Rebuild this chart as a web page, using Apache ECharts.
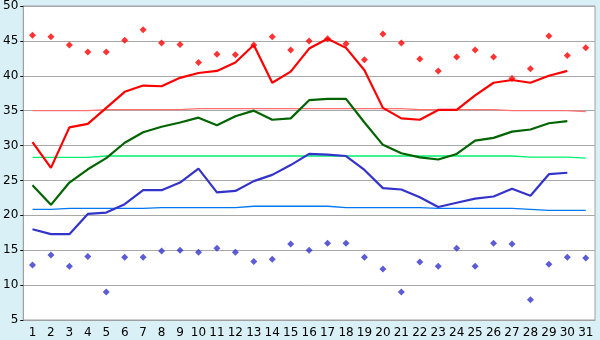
<!DOCTYPE html>
<html>
<head>
<meta charset="utf-8">
<script src="https://cdn.jsdelivr.net/npm/echarts@6/dist/echarts.min.js"></script>
<style>
html, body { margin: 0; padding: 0; background: #daf0f7; }
#chart { width: 600px; height: 340px; }
</style>
</head>
<body>
<div id="chart"></div>
<script>
var days = [];
for (var d = 1; d <= 31; d++) days.push(String(d));

// mean high / mean / mean low
var highLine = [30.5, 26.8, 32.6, 33.1, 35.4, 37.7, 38.6, 38.5, 39.7, 40.4, 40.7, 41.9, 44.4, 39.0, 40.6, 43.9, 45.3, 44.0, 40.8, 35.4, 33.9, 33.7, 35.1, 35.1, 37.2, 39.0, 39.4, 39.0, 40.0, 40.7];
var meanLine = [24.3, 21.5, 24.7, 26.6, 28.2, 30.4, 31.9, 32.7, 33.3, 34.0, 32.9, 34.2, 35.0, 33.7, 33.9, 36.5, 36.7, 36.7, 33.3, 30.1, 28.9, 28.3, 28.0, 28.8, 30.7, 31.1, 32.0, 32.3, 33.2, 33.5];
var lowLine = [18.0, 17.3, 17.3, 20.2, 20.4, 21.6, 23.6, 23.6, 24.7, 26.7, 23.3, 23.5, 24.9, 25.8, 27.2, 28.8, 28.7, 28.5, 26.5, 23.9, 23.7, 22.6, 21.2, 21.8, 22.4, 22.7, 23.8, 22.8, 25.9, 26.1];

// record max / min points
var maxPts = [45.8, 45.6, 44.4, 43.4, 43.4, 45.1, 46.6, 44.7, 44.5, 41.9, 43.1, 43.0, 44.4, 45.6, 43.7, 45.0, 45.3, 44.6, 42.3, 46.0, 44.7, 42.4, 40.7, 42.7, 43.7, 42.7, 39.6, 41.0, 45.7, 42.9, 44.0];
var minPts = [12.9, 14.3, 12.7, 14.1, 9.0, 14.0, 14.0, 14.9, 15.0, 14.7, 15.3, 14.7, 13.4, 13.7, 15.9, 15.0, 16.0, 16.0, 14.0, 12.3, 9.0, 13.3, 12.7, 15.3, 12.7, 16.0, 15.9, 7.9, 13.0, 14.0, 13.9];

// normals
var normHigh = [35.0, 35.0, 35.0, 35.0, 35.15, 35.15, 35.15, 35.15, 35.15, 35.3, 35.3, 35.3, 35.3, 35.3, 35.3, 35.3, 35.3, 35.3, 35.3, 35.3, 35.3, 35.15, 35.15, 35.15, 35.15, 35.15, 35.0, 35.0, 35.0, 35.0, 34.85];
var normMean = [28.3, 28.3, 28.3, 28.3, 28.5, 28.5, 28.5, 28.5, 28.5, 28.5, 28.5, 28.5, 28.5, 28.5, 28.5, 28.5, 28.5, 28.5, 28.5, 28.5, 28.5, 28.5, 28.5, 28.5, 28.5, 28.5, 28.5, 28.33, 28.33, 28.33, 28.2];
var normLow = [20.85, 20.85, 21.0, 21.0, 21.0, 21.0, 21.0, 21.1, 21.1, 21.1, 21.1, 21.1, 21.3, 21.3, 21.3, 21.3, 21.3, 21.1, 21.1, 21.1, 21.1, 21.1, 21.0, 21.0, 21.0, 21.0, 21.0, 20.85, 20.7, 20.7, 20.7];

var yTicks = [5, 50, 5]; // min, max, step

function line(data, color, width, z) {
	return { type: 'line', data: data, symbol: 'none', z: z,
		lineStyle: { color: color, width: width }, animation: false };
}
function dots(data, color) {
	return { type: 'scatter', data: data, symbol: 'diamond', symbolSize: 7, z: 5,
		itemStyle: { color: color }, animation: false };
}

var chart = echarts.init(document.getElementById('chart'));
chart.setOption({
	backgroundColor: '#daf0f7',
	textStyle: { fontFamily: 'DejaVu Sans' },
	grid: { left: 20, right: 5, top: 5, bottom: 20, show: true, backgroundColor: '#ffffff', borderColor: '#a0a0a0', borderWidth: 1 },
	xAxis: {
		type: 'category',
		data: days,
		boundaryGap: true,
		axisLine: { lineStyle: { color: '#a0a0a0' } },
		axisTick: { alignWithLabel: true, length: 5, lineStyle: { color: '#000' } },
		axisLabel: { interval: 0, color: '#000', fontSize: 12, margin: 7 },
		splitLine: { show: false }
	},
	yAxis: {
		type: 'value',
		min: yTicks[0], max: yTicks[1], interval: yTicks[2],
		axisLine: { show: true, lineStyle: { color: '#a0a0a0' } },
		axisTick: { show: true, length: 3, lineStyle: { color: '#000' } },
		axisLabel: { color: '#000', fontSize: 12, margin: 5 },
		splitLine: { lineStyle: { color: '#a8a8a8' } }
	},
	series: [
		line(normHigh, '#ff7070', 1.3, 2),
		line(normMean, '#00f070', 1.3, 2),
		line(normLow, '#0078f0', 1.3, 2),
		line(highLine, '#ff0000', 2.2, 3),
		line(meanLine, '#006400', 2.2, 3),
		line(lowLine, '#3333cc', 2.2, 3),
		dots(maxPts, '#ff0000'),
		dots(minPts, '#3333cc')
	]
});
</script>
</body>
</html>
